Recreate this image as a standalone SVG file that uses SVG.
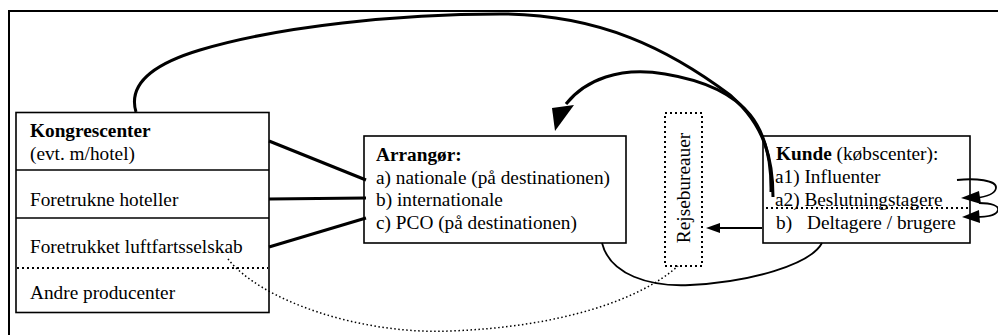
<svg xmlns="http://www.w3.org/2000/svg" width="998" height="335" viewBox="0 0 998 335">
<style>
text{font-family:"Liberation Serif","Times New Roman",serif;font-size:19.3px;fill:#000}
.b{font-weight:bold}
.box{fill:#fff;stroke:#000;stroke-width:1.6}
.dot{fill:none;stroke:#000;stroke-width:2;stroke-dasharray:2 3}
.thick{fill:none;stroke:#000;stroke-width:3}
.thin{fill:none;stroke:#000;stroke-width:1.8}
</style>
<rect x="9" y="11" width="1000" height="340" fill="#fff" stroke="#000" stroke-width="2"/>
<g id="kongrescenter">
<rect class="box" x="16" y="112.5" width="253" height="200"/>
<line x1="16" y1="170" x2="269" y2="170" stroke="#000" stroke-width="1.6"/>
<line x1="16" y1="218" x2="269" y2="218" stroke="#000" stroke-width="1.6"/>
<line class="dot" x1="17" y1="268" x2="268" y2="268"/>
<text x="30" y="137" class="b">Kongrescenter</text>
<text x="30" y="160">(evt. m/hotel)</text>
<text x="30" y="206">Foretrukne hoteller</text>
<text x="30" y="253">Foretrukket luftfartsselskab</text>
<text x="30" y="299">Andre producenter</text>
</g>
<g id="arrangor">
<rect class="box" x="364" y="136" width="262" height="107"/>
<text x="376" y="161" class="b">Arrangør:</text>
<text x="376" y="183.5">a) nationale (på destinationen)</text>
<text x="376" y="206">b) internationale</text>
<text x="376" y="228.5">c) PCO (på destinationen)</text>
</g>
<g id="rejsebureauer">
<rect class="dot" x="665" y="113" width="37" height="153"/>
<text transform="translate(690 188) rotate(-90)" text-anchor="middle">Rejsebureauer</text>
</g>
<g id="kunde">
<rect class="box" x="763" y="136" width="207" height="107"/>
<line class="dot" x1="766" y1="208" x2="970" y2="208"/>
<text x="776" y="160"><tspan class="b">Kunde</tspan> (købscenter):</text>
<text x="775" y="183">a1) Influenter</text>
<text x="775" y="206">a2) Beslutningstagere</text>
<text x="776" y="228.5">b)<tspan x="807">Deltagere / brugere</tspan></text>
</g>
<g id="connectors">
<path class="thick" d="M136 112 C128 85 150 65 200 50 C280 26 400 14 500 14 C600 14 670 50 730 95 C765 125 773 160 773 197"/>
<path class="thick" d="M771 192 C772 130 750 88 665 74 C620 66 585 80 566 104"/>
<polygon points="552,108 574,105 555,131" fill="#000"/>
<path class="thick" d="M269 141 L366 180"/>
<path class="thick" d="M269 199 L366 198"/>
<path class="thick" d="M269 247 L366 218"/>
<path class="thin" d="M602 243 C610 275 650 287 690 285 C750 282 810 265 822 243"/>
<path fill="none" stroke="#000" stroke-width="1.5" stroke-dasharray="1.5 2.5" d="M228 259 C260 300 360 335 450 331 C560 327 640 300 678 266"/>
<path class="thin" d="M762 228 L718 228"/>
<polygon points="706,228 720,223 720,233" fill="#000"/>
<path class="thin" d="M957 180 C975 178 997 180 996 188 C995 195 985 197 975 198"/>
<polygon points="961,198 979,191 981,204" fill="#000"/>
<path class="thin" d="M979 203 C992 203 999 206 998 210 C997 215 987 217 976 217"/>
<polygon points="962,217 979,210 980,223" fill="#000"/>
</g>
</svg>
